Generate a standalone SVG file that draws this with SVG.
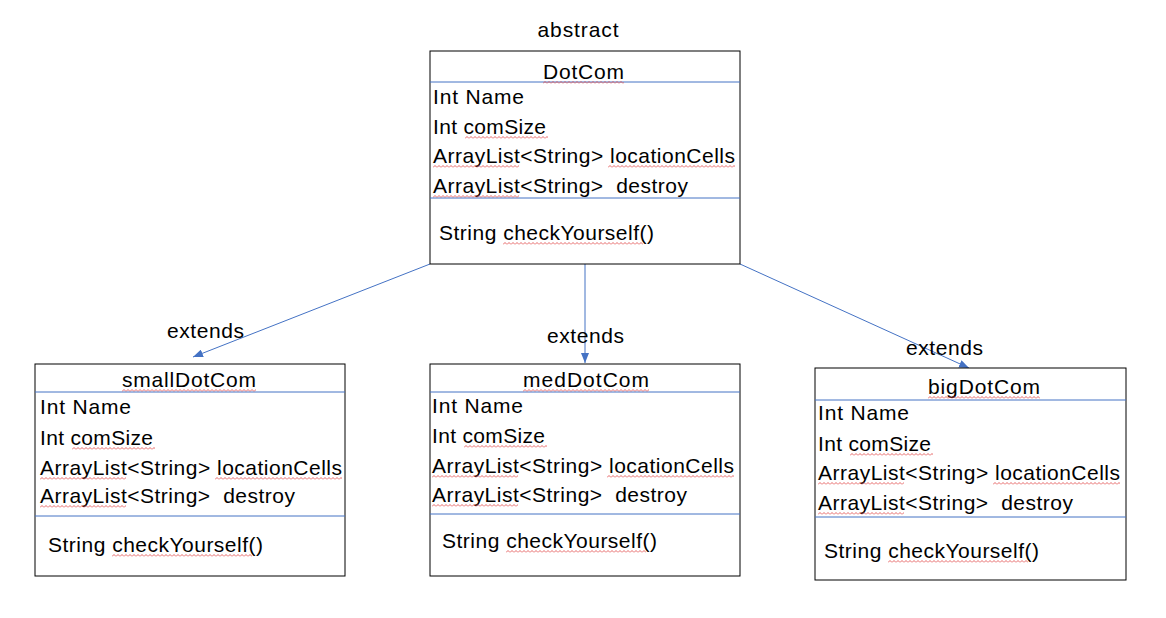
<svg xmlns="http://www.w3.org/2000/svg" width="1166" height="618" viewBox="0 0 1166 618">
<style>
  text { font-family: "Liberation Sans", Arial, sans-serif; font-size: 21px; fill: #000; white-space: pre; }
  .box { fill: #fff; stroke: #000; stroke-width: 1; }
  .sep { stroke: #4472C4; stroke-width: 1; }
  .conn { stroke: #4472C4; stroke-width: 1; fill: none; marker-end: url(#arr); }
  .sq { fill: url(#sq); }
</style>
<defs>
  <marker id="arr" markerUnits="userSpaceOnUse" viewBox="0 0 10 8" markerWidth="10" markerHeight="8" refX="10" refY="4" orient="auto">
    <path d="M0 0 L10 4 L0 8 Z" fill="#4472C4"/>
  </marker>
  <pattern id="sq" width="4" height="3" patternUnits="userSpaceOnUse">
    <path d="M0 2.5 L2 0.5 L4 2.5" fill="none" stroke="#e04040" stroke-width="0.8"/>
  </pattern>
</defs>
<rect width="1166" height="618" fill="#fff"/>

<text x="578" y="37" text-anchor="middle" textLength="81">abstract</text>

<g id="connectors">
  <line class="conn" x1="430" y1="264" x2="193" y2="357"/>
  <line class="conn" x1="585" y1="264" x2="585" y2="363"/>
  <line class="conn" x1="740" y1="264" x2="969" y2="368"/>
  <text x="167" y="338" textLength="77">extends</text>
  <text x="547" y="343" textLength="77">extends</text>
  <text x="906" y="355" textLength="77">extends</text>
</g>

<g id="DotCom">
  <rect class="box" x="430" y="51" width="310" height="213"/>
  <line class="sep" x1="430" y1="82" x2="740" y2="82"/>
  <line class="sep" x1="430" y1="198" x2="740" y2="198"/>
  <text x="543" y="79" textLength="81">DotCom</text>
  <text x="433" y="104" textLength="91">Int Name</text>
  <text x="433" y="134" textLength="113">Int comSize</text>
  <text x="433" y="163" textLength="302">ArrayList&lt;String&gt; locationCells</text>
  <text x="433" y="193" textLength="255">ArrayList&lt;String&gt;  destroy</text>
  <text x="439" y="240" textLength="215">String checkYourself()</text>
  <rect class="sq" transform="translate(543,81)" width="81" height="3"/>
  <rect class="sq" transform="translate(465,136)" width="83" height="3"/>
  <rect class="sq" transform="translate(433,165)" width="86" height="3"/>
  <rect class="sq" transform="translate(608,165)" width="127" height="3"/>
  <rect class="sq" transform="translate(433,195)" width="86" height="3"/>
  <rect class="sq" transform="translate(503,242)" width="140" height="3"/>
</g>

<g id="smallDotCom">
  <rect class="box" x="35" y="364" width="310" height="212"/>
  <line class="sep" x1="35" y1="392" x2="345" y2="392"/>
  <line class="sep" x1="35" y1="516" x2="345" y2="516"/>
  <text x="122" y="387" textLength="134">smallDotCom</text>
  <text x="40" y="414" textLength="91">Int Name</text>
  <text x="40" y="445" textLength="113">Int comSize</text>
  <text x="40" y="475" textLength="302">ArrayList&lt;String&gt; locationCells</text>
  <text x="40" y="503" textLength="255">ArrayList&lt;String&gt;  destroy</text>
  <text x="48" y="552" textLength="215">String checkYourself()</text>
  <rect class="sq" transform="translate(122,389)" width="134" height="3"/>
  <rect class="sq" transform="translate(72,447)" width="83" height="3"/>
  <rect class="sq" transform="translate(40,477)" width="86" height="3"/>
  <rect class="sq" transform="translate(215,477)" width="127" height="3"/>
  <rect class="sq" transform="translate(40,505)" width="86" height="3"/>
  <rect class="sq" transform="translate(112,554)" width="140" height="3"/>
</g>

<g id="medDotCom">
  <rect class="box" x="430" y="364" width="310" height="212"/>
  <line class="sep" x1="430" y1="392" x2="740" y2="392"/>
  <line class="sep" x1="430" y1="514" x2="740" y2="514"/>
  <text x="523" y="387" textLength="126">medDotCom</text>
  <text x="432" y="413" textLength="91">Int Name</text>
  <text x="432" y="443" textLength="113">Int comSize</text>
  <text x="432" y="473" textLength="302">ArrayList&lt;String&gt; locationCells</text>
  <text x="432" y="502" textLength="255">ArrayList&lt;String&gt;  destroy</text>
  <text x="442" y="548" textLength="215">String checkYourself()</text>
  <rect class="sq" transform="translate(523,389)" width="126" height="3"/>
  <rect class="sq" transform="translate(464,445)" width="83" height="3"/>
  <rect class="sq" transform="translate(432,475)" width="86" height="3"/>
  <rect class="sq" transform="translate(607,475)" width="127" height="3"/>
  <rect class="sq" transform="translate(432,504)" width="86" height="3"/>
  <rect class="sq" transform="translate(506,550)" width="140" height="3"/>
</g>

<g id="bigDotCom">
  <rect class="box" x="815" y="368" width="311" height="212"/>
  <line class="sep" x1="815" y1="400" x2="1126" y2="400"/>
  <line class="sep" x1="815" y1="517" x2="1126" y2="517"/>
  <text x="928" y="394" textLength="112">bigDotCom</text>
  <text x="818" y="420" textLength="91">Int Name</text>
  <text x="818" y="451" textLength="113">Int comSize</text>
  <text x="818" y="480" textLength="302">ArrayList&lt;String&gt; locationCells</text>
  <text x="818" y="510" textLength="255">ArrayList&lt;String&gt;  destroy</text>
  <text x="824" y="558" textLength="215">String checkYourself()</text>
  <rect class="sq" transform="translate(928,396)" width="112" height="3"/>
  <rect class="sq" transform="translate(850,453)" width="83" height="3"/>
  <rect class="sq" transform="translate(818,482)" width="86" height="3"/>
  <rect class="sq" transform="translate(993,482)" width="127" height="3"/>
  <rect class="sq" transform="translate(818,512)" width="86" height="3"/>
  <rect class="sq" transform="translate(888,560)" width="140" height="3"/>
</g>
</svg>
